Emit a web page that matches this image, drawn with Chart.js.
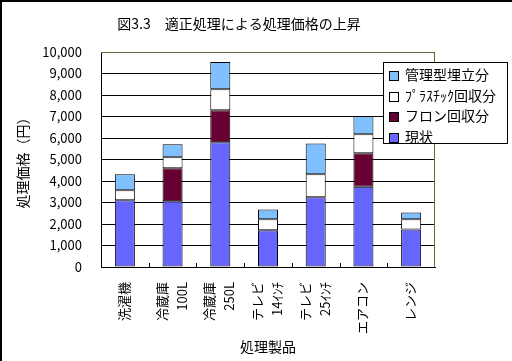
<!DOCTYPE html>
<html>
<head>
<meta charset="utf-8">
<script src="https://cdn.jsdelivr.net/npm/chart.js@4/dist/chart.umd.min.js"></script>
<style>
  body { margin: 0; background: #fff; }
  #wrap { position: relative; width: 512px; height: 361px; }
  #legend {
    position: absolute; left: 383px; top: 62px; width: 123px; height: 79px;
    border: 1px solid #000; background: #fff;
    font: 14px "Noto Sans CJK JP", sans-serif; color: #000;
    padding-top: 1px; box-sizing: content-box;
  }
  #legend div { height: 20.5px; line-height: 20.5px; white-space: nowrap; }
  #legend span {
    display: inline-block; width: 8px; height: 8px; border: 1px solid #000;
    margin: 0 6px 0 5px; vertical-align: -1px;
  }
</style>
</head>
<body>
<div id="wrap">
  <canvas id="c" width="512" height="361"></canvas>
  <div id="legend"></div>
</div>
<script>
const categories = ['洗濯機', ['冷蔵庫', '100L'], ['冷蔵庫', '250L'], ['テレビ', '14ｲﾝﾁ'], ['テレビ', '25ｲﾝﾁ'], 'エアコン', 'レンジ'];
const genjo = [3100, 3060, 5800, 1710, 3240, 3730, 1750];       // 現状
const freon = [0, 1530, 1490, 0, 0, 1560, 0];                   // フロン回収分
const plastic = [470, 510, 980, 510, 1070, 880, 470];           // プラスチック回収分
const kanri = [740, 610, 1260, 460, 1440, 850, 320];            // 管理型埋立分
const yTicks = [0, 1000, 2000, 3000, 4000, 5000, 6000, 7000, 8000, 9000, 10000];

const jp = '"Noto Sans CJK JP", sans-serif';

const extras = {
  id: 'extras',
  afterDraw(chart) {
    const ctx = chart.ctx;
    const a = chart.chartArea;
    const x = chart.scales.x;
    ctx.save();
    // plot area top/right edge
    ctx.strokeStyle = '#666633';
    ctx.lineWidth = 1;
    ctx.beginPath();
    ctx.moveTo(a.left, a.top + 0.5);
    ctx.lineTo(a.right - 0.5, a.top + 0.5);
    ctx.lineTo(a.right - 0.5, a.bottom);
    ctx.stroke();
    // inward ticks between categories
    ctx.strokeStyle = '#000';
    ctx.beginPath();
    for (let i = 0; i < categories.length - 1; i++) {
      const px = Math.round((x.getPixelForValue(i) + x.getPixelForValue(i + 1)) / 2) + 0.5;
      ctx.moveTo(px, a.bottom);
      ctx.lineTo(px, a.bottom - 4);
    }
    ctx.stroke();
    // vertical category labels, centred on each category
    ctx.fillStyle = '#000';
    ctx.font = '13px ' + jp;
    ctx.textAlign = 'right';
    ctx.textBaseline = 'middle';
    categories.forEach((c, i) => {
      const lines = Array.isArray(c) ? c : [c];
      lines.forEach((t, j) => {
        const cx = x.getPixelForValue(i) - 1 + (j - (lines.length - 1) / 2) * 20;
        ctx.save();
        ctx.translate(cx, a.bottom + 15);
        ctx.rotate(-Math.PI / 2);
        ctx.fillText(t, 0, 0);
        ctx.restore();
      });
    });
    // outer frame
    ctx.fillRect(0, 0, chart.width, 2);
    ctx.fillRect(0, 0, 2, chart.height);
    // title
    ctx.font = '14px ' + jp;
    ctx.textAlign = 'center';
    ctx.fillText('図3.3　適正処理による処理価格の上昇', 239, 24);
    ctx.restore();
  }
};

const chart = new Chart(document.getElementById('c'), {
  type: 'bar',
  data: {
    labels: categories,
    datasets: [
      { label: '現状', data: genjo, backgroundColor: '#6666FF' },
      { label: 'フロン回収分', data: freon, backgroundColor: '#660033' },
      { label: 'ﾌﾟﾗｽﾁｯｸ回収分', data: plastic, backgroundColor: '#FFFFFF' },
      { label: '管理型埋立分', data: kanri, backgroundColor: '#80C0FF' }
    ].map(d => Object.assign(d, {
      borderColor: '#000', borderWidth: c => (c.raw ? 1 : 0), borderSkipped: false,
      categoryPercentage: 1, barPercentage: 0.42
    }))
  },
  options: {
    responsive: false,
    animation: false,
    layout: { padding: { top: 52, right: 77, left: 0, bottom: 0 } },
    plugins: { legend: { display: false }, tooltip: { enabled: false } },
    scales: {
      x: {
        stacked: true,
        afterFit: s => { s.height = 94; },
        grid: { display: false },
        border: { color: '#000', width: 1 },
        ticks: { display: false },
        title: {
          display: true, text: '処理製品', color: '#000',
          font: { family: jp, size: 14 }, padding: { top: 0, bottom: 6 }
        }
      },
      y: {
        stacked: true,
        min: 0, max: 10000,
        afterFit: s => { s.width = 101; },
        afterBuildTicks: s => { s.ticks = yTicks.map(v => ({ value: v })); },
        grid: { color: '#000', drawTicks: false },
        border: { color: '#000', width: 1 },
        ticks: {
          padding: 19, color: '#000', font: { family: jp, size: 13 },
          callback: v => v.toLocaleString('en-US')
        },
        title: {
          display: true, text: '処理価格（円）', color: '#000',
          font: { family: jp, size: 14 }, padding: { top: 14, bottom: 0 }
        }
      }
    }
  },
  plugins: [extras]
});

const legend = document.getElementById('legend');
chart.data.datasets.slice().reverse().forEach(d => {
  const row = document.createElement('div');
  const sw = document.createElement('span');
  sw.style.background = d.backgroundColor;
  row.appendChild(sw);
  row.appendChild(document.createTextNode(d.label));
  legend.appendChild(row);
});
</script>
</body>
</html>
